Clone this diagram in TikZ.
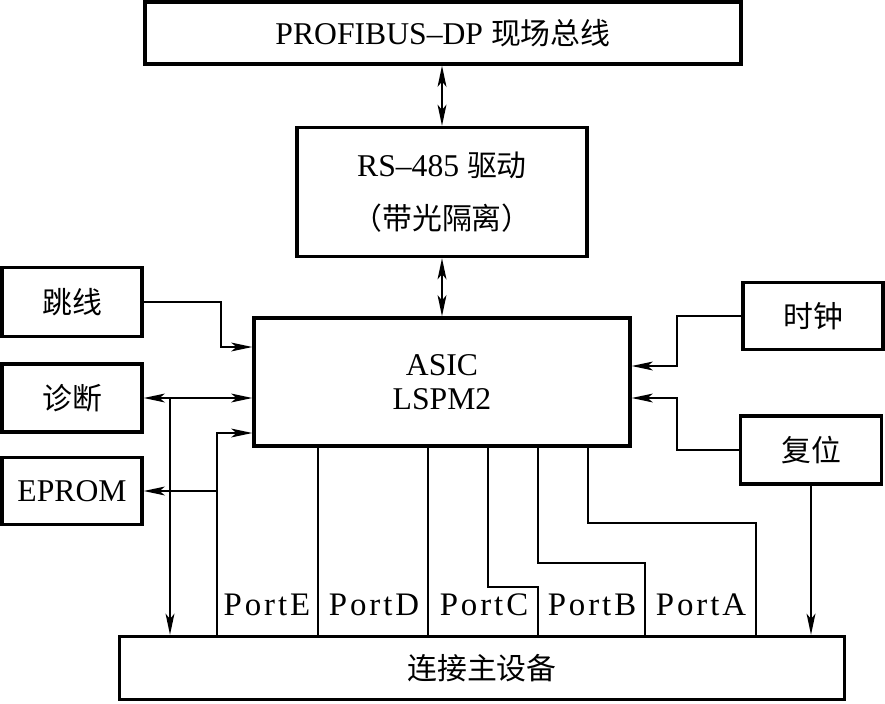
\documentclass[tikz,border=0pt]{standalone}
\usepackage{fontspec}
\setmainfont{Liberation Serif}[Scale=1.06]
\newfontfamily\cjk{Noto Sans CJK SC}
\newfontfamily\portfont[LetterSpace=9, Scale=1.1]{Liberation Serif}
\usetikzlibrary{arrows.meta, positioning}

\begin{document}
\begin{tikzpicture}[
    x=0.02cm, y=-0.02cm,
    box/.style={
        draw=black, line width=1.9pt, inner sep=0pt, align=center,
        font=\fontsize{17}{19}\selectfont
    },
    link/.style={line width=1.4pt, black},
    arrow/.style={link, -{Stealth[length=12pt, width=5pt, inset=3pt]}},
    twoway/.style={link, {Stealth[length=12pt, width=5pt, inset=3pt]}-{Stealth[length=12pt, width=5pt, inset=3pt]}},
    portlbl/.style={font=\fontsize{17}{19}\selectfont\portfont, inner sep=0pt}
]
\useasboundingbox (0,0) rectangle (885,703);

\node[box, minimum width=11.92cm, minimum height=1.24cm] (bus) at (443,33) {PROFIBUS–DP {\cjk 现场总线}};

\node[box, minimum width=5.8cm, minimum height=2.58cm, font=\fontsize{17}{30}\selectfont] (drv) at (442,192) {RS–485 {\cjk 驱动}\\{\cjk （带光隔离）}};

\node[box, minimum width=7.52cm, minimum height=2.56cm] (asic) at (442,382) {ASIC\\LSPM2};

\node[box, minimum width=2.8cm, minimum height=1.38cm] (jumper) at (72,302) {\cjk 跳线};
\node[box, minimum width=2.8cm, minimum height=1.36cm] (diag) at (72,398) {\cjk 诊断};
\node[box, minimum width=2.8cm, minimum height=1.34cm] (eprom) at (72,491) {EPROM};

\node[box, minimum width=2.8cm, minimum height=1.34cm] (clock) at (813,316) {\cjk 时钟};
\node[box, minimum width=2.82cm, minimum height=1.36cm] (reset) at (811,450) {\cjk 复位};

\node[box, minimum width=14.5cm, minimum height=1.26cm] (host) at (482,668) {\cjk 连接主设备};

% bus and driver
\draw[twoway] (drv.north) -- (bus.south -| drv.north);
\draw[twoway] (drv.south) -- (asic.north);

% left side
\coordinate (jbend) at (221,347);
\draw[arrow] (jumper.east) -| (jbend) -- (jbend -| asic.west);

\draw[twoway] (diag.east) -- (diag.east -| asic.west);
\coordinate (dtap) at (170,398);
\draw[arrow] (dtap) -- (dtap |- host.north);

\coordinate (ein) at (217,433);
\draw[arrow] (ein |- host.north) -- (ein) -- (ein -| asic.west);
\draw[arrow] (ein |- eprom.east) -- (eprom.east);

% right side
\coordinate (cbend) at (677,366);
\draw[arrow] (clock.west) -| (cbend) -- (cbend -| asic.east);
\coordinate (rbend) at (677,398);
\draw[arrow] (reset.west) -| (rbend) -- (rbend -| asic.east);
\draw[arrow] (reset.south) -- (reset.south |- host.north);

% ports
\foreach \xa/\yb/\xb in {318/587/318, 428/587/428, 488/587/538, 538/563/645, 588/523/756}
    \draw[link] (\xa,0 |- asic.south) -- (\xa,\yb) -| (\xb,0 |- host.north);

\node[portlbl, anchor=base] (pE) at (267,615) {PortE};
\node[portlbl, anchor=base] (pD) at (374,615) {PortD};
\node[portlbl, anchor=base] (pC) at (484,615) {PortC};
\node[portlbl, anchor=base] (pB) at (592,615) {PortB};
\node[portlbl, anchor=base] (pA) at (701,615) {PortA};

\end{tikzpicture}
\end{document}
